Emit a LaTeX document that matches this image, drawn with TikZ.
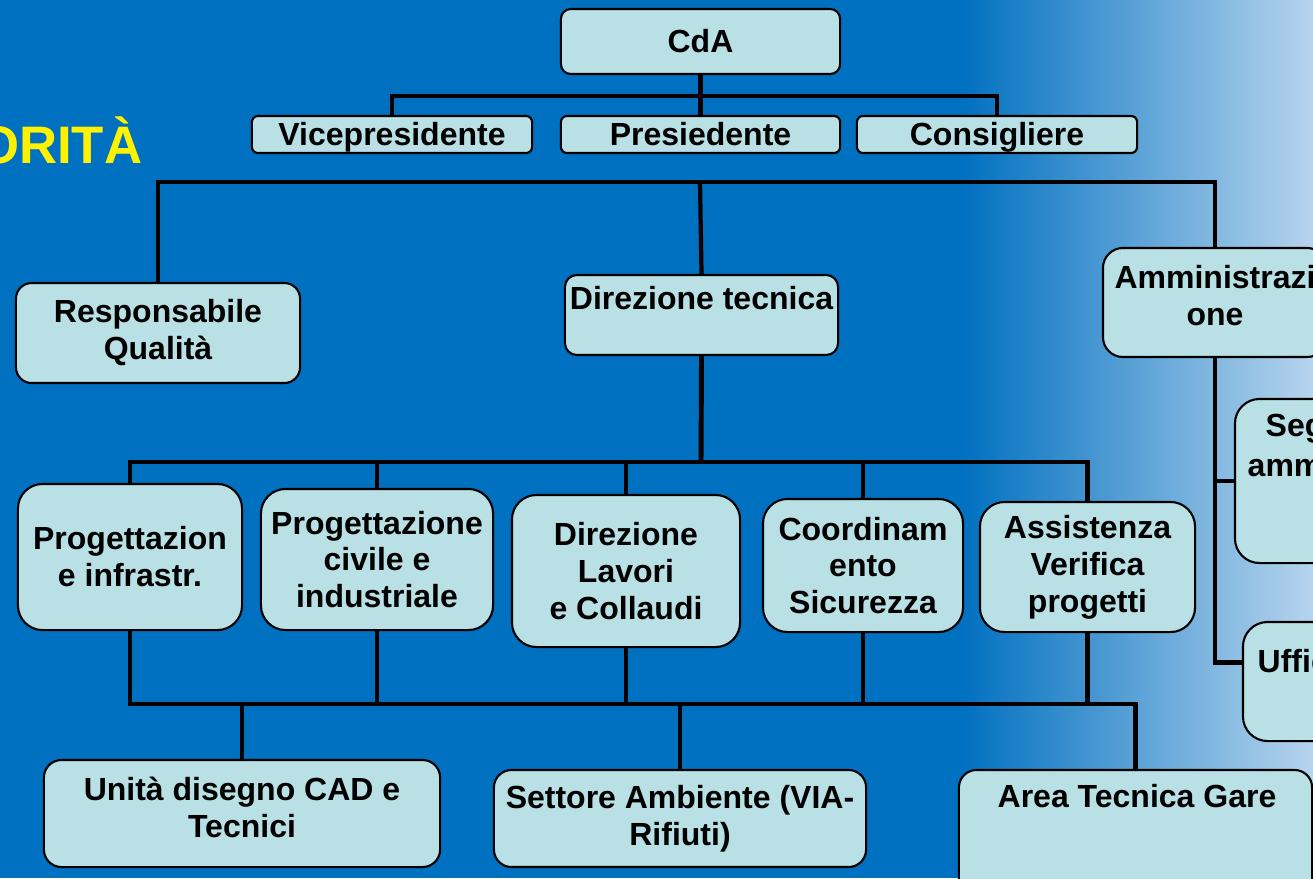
\documentclass[tikz,border=0pt]{standalone}
\usepackage{fontspec}
\setmainfont{Liberation Sans}
\usetikzlibrary{calc}
\definecolor{bgblue}{RGB}{0,112,192}
\definecolor{bglight}{RGB}{182,212,237}
\definecolor{boxfill}{RGB}{185,224,228}

\begin{document}
\begin{tikzpicture}[x=0.01cm, y=-0.01cm,
    box/.style={draw=black, line width=0.6pt, fill=boxfill, rounded corners=#1,
        inner sep=0pt, align=center, font=\bfseries\fontsize{9.1}{10.5}\selectfont},
    box/.default=6pt,
    flat/.style={box=1.7pt, minimum height=0.37cm, text height=6.5pt, text depth=0pt},
    txt/.style={inner sep=0pt, align=center, font=\bfseries\fontsize{9.1}{10.5}\selectfont},
    link/.style={line width=1.2pt}]

    \useasboundingbox (0,0) rectangle (1313,878);
    \clip (0,0) rectangle (1313,878);

    % background
    \fill[bgblue] (0,0) rectangle (1313,878);
    \shade[left color=bgblue, right color=bglight] (960,0) rectangle (1313,878);

    \node[inner sep=0pt, text=yellow, font=\bfseries\fontsize{15}{18}\selectfont, anchor=base east] (title) at (143,163) {ORITÀ};

    % board
    \node[box=2.8pt, minimum width=2.79cm, minimum height=0.65cm] (cda) at (700.5,41.5) {CdA};
    \node[flat, minimum width=2.8cm] (vice) at (392,134.5) {Vicepresidente};
    \node[flat, minimum width=2.79cm] (pres) at (700.5,134.5) {Presiedente};
    \node[flat, minimum width=2.8cm] (cons) at (997,134.5) {Consigliere};

    \coordinate (bus1) at (700,96);
    \draw[link, line width=1.4pt] (cda.south) -- (pres.north);
    \draw[link, line width=1.4pt] (vice.north) |- (bus1) -| (cons.north);

    % second level
    \node[box=4.5pt, minimum width=2.84cm, minimum height=1cm] (respq) at (158,333) {Responsabile\\Qualità};
    \node[box=3.4pt, minimum width=2.73cm, minimum height=0.8cm] (dirtec) at (701.5,315) {};
    \node[txt] (dirtec-t) at (701.5,298) {Direzione tecnica};
    \node[box=5.7pt, minimum width=2.24cm, minimum height=1.09cm] (amm) at (1215,302.5) {};
    \node[txt] (amm-t) at (1215,296) {Amministrazi\\one};

    \coordinate (bus2) at (700,182);
    \draw[link] (respq.north) |- (bus2) -| (amm.north);
    \draw[link] (bus2) -- (dirtec.north);

    % administration
    \node[box=7pt, minimum width=2.4cm, minimum height=1.64cm] (seg) at (1355,481) {};
    \node[txt, anchor=base west] (seg-a) at (1265,436) {Seg};
    \node[txt, anchor=base west] (seg-b) at (1247,476) {amm};
    \node[box=7pt, minimum width=2.4cm, minimum height=1.19cm] (uff) at (1363,681.5) {};
    \node[txt, anchor=base west] (uff-t) at (1257,672) {Uffic};

    \draw[link] (amm.south) |- ($(uff.west)+(0,-19)$);
    \draw[link] (amm.south |- seg.west) -- (seg.west);

    % technical units
    \node[box=7pt, minimum width=2.24cm, minimum height=1.46cm] (progin) at (130,557) {Progettazion\\e infrastr.};
    \node[box=7pt, minimum width=2.32cm, minimum height=1.41cm] (progci) at (377,559.5) {Progettazione\\civile e\\industriale};
    \node[box=7pt, minimum width=2.28cm, minimum height=1.52cm] (dirlav) at (626,571) {Direzione\\Lavori\\e Collaudi};
    \node[box=7pt, minimum width=2cm, minimum height=1.33cm] (coord) at (863,565.5) {Coordinam\\ento\\Sicurezza};
    \node[box=7pt, minimum width=2.15cm, minimum height=1.3cm] (assist) at (1087.5,567) {Assistenza\\Verifica\\progetti};

    \coordinate (bus3) at (701,462);
    \draw[link, line width=1.4pt] (dirtec.south) -- (bus3);
    \draw[link] (progin.north) |- (bus3) -| (assist.north);
    \draw[link] (progci.north) -- (progci.north |- bus3);
    \draw[link] (dirlav.north) -- (dirlav.north |- bus3);
    \draw[link] (coord.north) -- (coord.north |- bus3);

    % support units
    \node[box=5pt, minimum width=3.96cm, minimum height=1.07cm] (unita) at (242,813.5) {};
    \node[txt] (unita-t) at (242,807) {Unità disegno CAD e\\Tecnici};
    \node[box=5pt, minimum width=3.72cm, minimum height=0.97cm] (settore) at (680,818.5) {Settore Ambiente (VIA-\\Rifiuti)};
    \node[box=5pt, minimum width=3.53cm, minimum height=1.3cm] (area) at (1135.5,835) {};
    \node[txt] (area-t) at (1137,796) {Area Tecnica Gare};

    \coordinate (bus4) at (680,704);
    \draw[link] (progin.south) |- (bus4) -| (area.north);
    \draw[link] (progci.south) -- (progci.south |- bus4);
    \draw[link] (dirlav.south) -- (dirlav.south |- bus4);
    \draw[link] (coord.south) -- (coord.south |- bus4);
    \draw[link] (assist.south) -- (assist.south |- bus4);
    \draw[link] (bus4 -| unita.north) -- (unita.north);
    \draw[link] (bus4) -- (settore.north);

\end{tikzpicture}
\end{document}
